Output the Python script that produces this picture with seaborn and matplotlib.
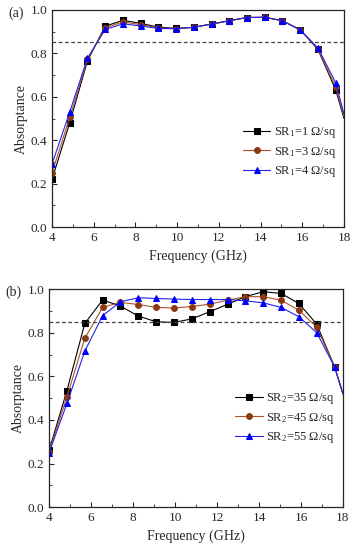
import numpy as np
import seaborn as sns
import matplotlib.pyplot as plt
from matplotlib.ticker import MultipleLocator

# frequency samples (GHz); markers on all but the last (18 GHz end point)
freq = [4.0, 4.85, 5.7, 6.55, 7.4, 8.25, 9.1, 9.95, 10.8, 11.65,
        12.5, 13.35, 14.2, 15.05, 15.9, 16.75, 17.6, 18.0]

# panel (a): SR1 sweep
sr1_1 = [0.22, 0.48, 0.765, 0.925, 0.952, 0.938, 0.921, 0.915, 0.92, 0.935,
         0.95, 0.965, 0.966, 0.95, 0.908, 0.818, 0.632, 0.50]
sr1_3 = [0.25, 0.505, 0.772, 0.917, 0.945, 0.932, 0.917, 0.914, 0.92, 0.935,
         0.95, 0.965, 0.966, 0.95, 0.908, 0.821, 0.645, 0.51]
sr1_4 = [0.29, 0.53, 0.778, 0.91, 0.936, 0.926, 0.915, 0.913, 0.92, 0.935,
         0.95, 0.965, 0.966, 0.95, 0.908, 0.825, 0.665, 0.52]

# panel (b): SR2 sweep
sr2_35 = [0.26, 0.535, 0.843, 0.951, 0.923, 0.877, 0.851, 0.848, 0.864, 0.897,
          0.931, 0.966, 0.989, 0.981, 0.935, 0.840, 0.644, 0.52]
sr2_45 = [0.255, 0.506, 0.775, 0.917, 0.940, 0.930, 0.917, 0.914, 0.921, 0.932,
          0.95, 0.966, 0.966, 0.95, 0.904, 0.826, 0.645, 0.52]
sr2_55 = [0.25, 0.476, 0.716, 0.879, 0.943, 0.961, 0.958, 0.955, 0.953, 0.953,
          0.953, 0.947, 0.938, 0.917, 0.874, 0.801, 0.644, 0.52]

labels_a = [r'SR$_1$=1 Ω/sq', r'SR$_1$=3 Ω/sq', r'SR$_1$=4 Ω/sq']
labels_b = [r'SR$_2$=35 Ω/sq', r'SR$_2$=45 Ω/sq', r'SR$_2$=55 Ω/sq']

colors = ['black', '#b0502a', '#2222ee']
mcolors = ['black', '#8b3a10', '#0000ff']
markers = ['s', 'o', '^']

sns.set_style('ticks')
plt.rcParams['font.family'] = ['Liberation Serif', 'DejaVu Serif']
plt.rcParams['mathtext.fontset'] = 'custom'
plt.rcParams['mathtext.rm'] = 'Liberation Serif'
plt.rcParams['mathtext.it'] = 'Liberation Serif:italic'

fig = plt.figure(figsize=(3.61, 5.5), dpi=100)
ax_a = fig.add_axes([0.144, 0.587, 0.809, 0.395])
ax_b = fig.add_axes([0.136, 0.078, 0.814, 0.396])

panels = [(ax_a, [sr1_1, sr1_3, sr1_4], labels_a, '(a)', (0.654, 0.345)),
          (ax_b, [sr2_35, sr2_45, sr2_55], labels_b, '(b)', (0.633, 0.408))]

for ax, series, labels, tag, leg_pos in panels:
    for vals, lab, c, mc, m in zip(series, labels, colors, mcolors, markers):
        sns.lineplot(x=freq, y=vals, ax=ax, color=c, lw=0.8, marker=m,
                     markersize=4.2, markerfacecolor=mc, markeredgecolor=mc,
                     markevery=list(range(17)), label=lab)
    ax.axhline(0.85, color='#444444', ls='--', lw=0.9, dashes=(3, 2))
    ax.set_xlim(4, 18)
    ax.set_ylim(0, 1.0)
    ax.xaxis.set_minor_locator(MultipleLocator(1))
    ax.yaxis.set_minor_locator(MultipleLocator(0.1))
    ax.set_xticks(range(4, 19, 2))
    ax.set_yticks(np.arange(0, 1.01, 0.2))
    ax.set_yticklabels(['0.0', '0.2', '0.4', '0.6', '0.8', '1.0'])
    ax.tick_params(which='both', direction='in', labelsize=9.5, top=False, right=False)
    ax.tick_params(which='major', length=3.5)
    ax.tick_params(which='minor', length=2)
    ax.set_xlabel('Frequency (GHz)', fontsize=10)
    ax.set_ylabel('Absorptance', fontsize=10, labelpad=2)
    for s in ax.spines.values():
        s.set_linewidth(0.9)
    ax.legend(loc='center left', bbox_to_anchor=leg_pos, frameon=False,
              fontsize=9, handlelength=2.2, handletextpad=0.25, labelspacing=0.35,
              borderpad=0, borderaxespad=0)
    ax.text(-0.15, 0.985, tag, transform=ax.transAxes, fontsize=10, va='center')

fig.savefig('out.png', dpi=100)
